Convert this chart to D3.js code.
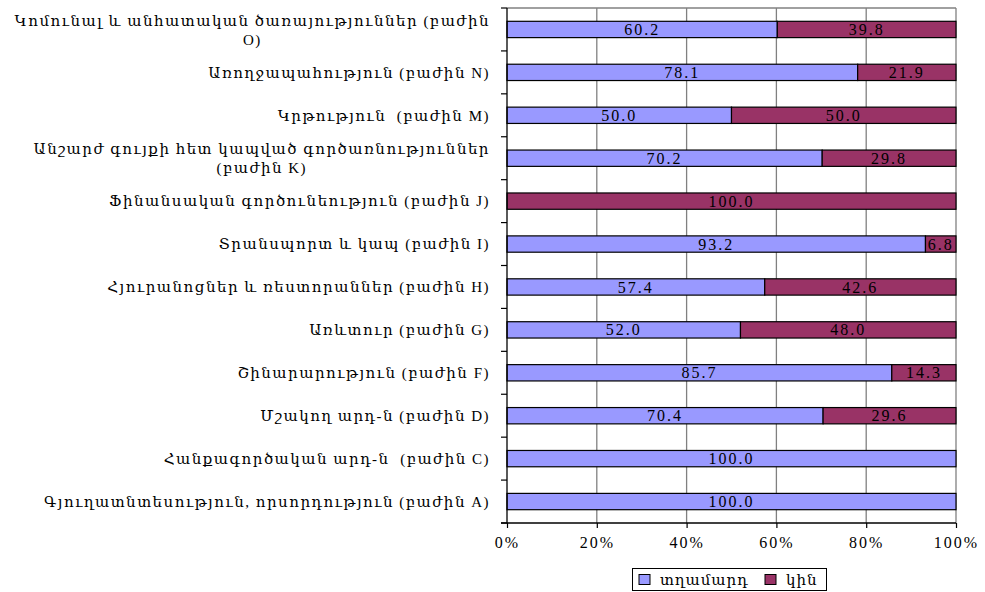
<!DOCTYPE html>
<html>
<head>
<meta charset="utf-8">
<script src="https://cdn.jsdelivr.net/npm/d3@7"></script>
<style>
  html, body { margin: 0; padding: 0; background: #ffffff; }
  svg { display: block; }
  text { font-family: "Liberation Serif", "DejaVu Serif", serif; fill: #000; }
</style>
</head>
<body>
<svg id="chart" width="985" height="592"></svg>
<script>
// ---- data (top to bottom as shown) ----
const categories = [
  ["Կոմունալ և անհատական ծառայություններ (բաժին", "O)"],
  ["Առողջապահություն (բաժին N)"],
  ["Կրթություն  (բաժին M)"],
  ["Անշարժ գույքի հետ կապված գործառնություններ", "(բաժին K)"],
  ["Ֆինանսական գործունեություն (բաժին J)"],
  ["Տրանսպորտ և կապ (բաժին I)"],
  ["Հյուրանոցներ և ռեստորաններ (բաժին H)"],
  ["Առևտուր (բաժին G)"],
  ["Շինարարություն (բաժին F)"],
  ["Մշակող արդ-ն (բաժին D)"],
  ["Հանքագործական արդ-ն  (բաժին C)"],
  ["Գյուղատնտեսություն, որսորդություն (բաժին A)"]
];
const men   = [60.2, 78.1, 50.0, 70.2, 0,   93.2, 57.4, 52.0, 85.7, 70.4, 100.0, 100.0];
const women = [39.8, 21.9, 50.0, 29.8, 100.0, 6.8, 42.6, 48.0, 14.3, 29.6, 0,    0];
const seriesNames = ["տղամարդ", "կին"];
const seriesColors = ["#9999FF", "#993366"];
const xTicks = [0, 20, 40, 60, 80, 100];

// ---- layout ----
const svg = d3.select("#chart");
const plot = { left: 507, right: 956, top: 8, bottom: 523 };
const fontSize = 15;

const keys = categories.map((c, i) => i);
const x = d3.scaleLinear().domain([0, 100]).range([plot.left, plot.right]);
const y = d3.scaleBand().domain(keys).range([plot.top, plot.bottom])
  .paddingInner(0.62).paddingOuter(0.31);
const step = y.step();

const rows = keys.map(i => ({ i, vals: [men[i], women[i]] }));
const stacked = d3.stack().keys([0, 1]).value((d, k) => d.vals[k])(rows);

// gridlines
svg.append("g").selectAll("line").data(xTicks.slice(1))
  .join("line")
  .attr("x1", d => x(d)).attr("x2", d => x(d))
  .attr("y1", plot.top).attr("y2", plot.bottom)
  .attr("stroke", "#808080").attr("stroke-width", 1.3);
// top border
svg.append("line")
  .attr("x1", plot.left).attr("x2", plot.right)
  .attr("y1", plot.top).attr("y2", plot.top)
  .attr("stroke", "#808080").attr("stroke-width", 1.3);

// bars
stacked.forEach((layer, k) => {
  svg.append("g").selectAll("rect").data(layer.filter(d => d[1] - d[0] > 0))
    .join("rect")
    .attr("x", d => x(d[0]))
    .attr("y", d => y(d.data.i))
    .attr("width", d => x(d[1]) - x(d[0]))
    .attr("height", y.bandwidth())
    .attr("fill", seriesColors[k])
    .attr("stroke", "#000").attr("stroke-width", 1.2);
  svg.append("g").selectAll("text").data(layer.filter(d => d[1] - d[0] > 0))
    .join("text")
    .attr("x", d => (x(d[0]) + x(d[1])) / 2)
    .attr("y", d => y(d.data.i) + y.bandwidth() / 2)
    .attr("dy", "0.35em")
    .attr("text-anchor", "middle")
    .attr("font-size", 16)
    .attr("letter-spacing", "2px")
    .text(d => (d[1] - d[0]).toFixed(1));
});

// left axis
svg.append("line")
  .attr("x1", plot.left).attr("x2", plot.left)
  .attr("y1", plot.top).attr("y2", plot.bottom)
  .attr("stroke", "#000").attr("stroke-width", 1.3);
svg.append("g").selectAll("line").data(d3.range(categories.length + 1))
  .join("line")
  .attr("x1", plot.left - 6).attr("x2", plot.left)
  .attr("y1", i => plot.top + i * step).attr("y2", i => plot.top + i * step)
  .attr("stroke", "#000").attr("stroke-width", 1.2);

// bottom axis
const xAxis = d3.axisBottom(x).tickValues(xTicks).tickFormat(d => d + "%").tickSize(5).tickPadding(9);
const gx = svg.append("g").attr("transform", `translate(0,${plot.bottom})`).call(xAxis);
gx.select(".domain").attr("stroke", "#000").attr("stroke-width", 1.3)
  .attr("d", `M${plot.left - 6},0H${plot.right}`);
gx.selectAll(".tick line").attr("stroke", "#000").attr("stroke-width", 1.2);
gx.selectAll(".tick text")
  .attr("font-family", '"Liberation Serif", "DejaVu Serif", serif')
  .attr("font-size", 16).attr("letter-spacing", "2px").attr("fill", "#000");

// category labels
const labelRight = 490;
const lg = svg.append("g").attr("font-size", fontSize).attr("letter-spacing", "1.5px");
categories.forEach((lines, i) => {
  const cy = y(i) + y.bandwidth() / 2;
  if (lines.length === 1) {
    lg.append("text").attr("x", labelRight).attr("y", cy).attr("dy", "0.35em")
      .attr("text-anchor", "end").attr("xml:space", "preserve").text(lines[0]);
  } else {
    const t1 = lg.append("text").attr("x", labelRight).attr("y", cy - 9).attr("dy", "0.35em")
      .attr("text-anchor", "end").attr("xml:space", "preserve").text(lines[0]);
    const w = t1.node().getComputedTextLength();
    lg.append("text").attr("x", labelRight - w / 2).attr("y", cy + 10).attr("dy", "0.35em")
      .attr("text-anchor", "middle").attr("xml:space", "preserve").text(lines[1]);
  }
});

// legend
const leg = svg.append("g");
leg.append("rect").attr("x", 632.5).attr("y", 568.5).attr("width", 194).attr("height", 22)
  .attr("fill", "#fff").attr("stroke", "#000").attr("stroke-width", 1);
const legItems = [{ x: 639 }, { x: 765 }];
seriesNames.forEach((name, k) => {
  leg.append("rect").attr("x", legItems[k].x).attr("y", 574.5).attr("width", 11).attr("height", 10)
    .attr("fill", seriesColors[k]).attr("stroke", "#000").attr("stroke-width", 1);
  leg.append("text").attr("x", legItems[k].x + 21).attr("y", 579.5).attr("dy", "0.35em")
    .attr("font-size", fontSize).attr("letter-spacing", "1px").text(name);
});
</script>
</body>
</html>
